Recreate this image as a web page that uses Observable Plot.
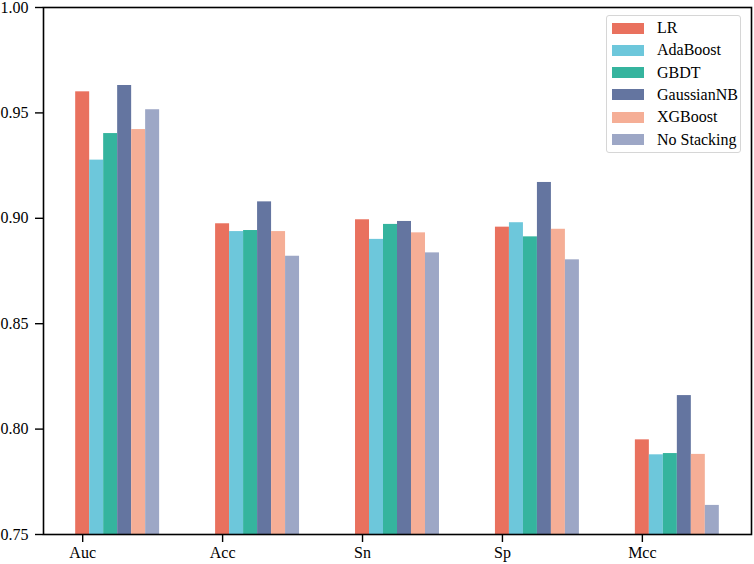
<!DOCTYPE html>
<html>
<head>
<meta charset="utf-8">
<script src="https://cdn.jsdelivr.net/npm/d3@7"></script>
<script src="https://cdn.jsdelivr.net/npm/@observablehq/plot@0.6"></script>
<style>
  html, body { margin: 0; padding: 0; background: #fff; }
  #wrap { position: relative; width: 754px; height: 564px; }
  #legend {
    position: absolute; left: 606px; top: 15px; width: 135px; height: 138px;
    border: 1px solid #d6d6d6; border-radius: 3px; background: rgba(255,255,255,0.85);
    font-family: "Liberation Serif", "DejaVu Serif", serif; font-size: 16px; color: #000;
    box-sizing: border-box;
  }
  .row { position: absolute; left: 5px; height: 22px; display: flex; align-items: center; }
  .sw { width: 32px; height: 11px; margin-right: 13px; }
</style>
</head>
<body>
<div id="wrap"><div id="legend"></div></div>
<script>
const categories = ["Auc", "Acc", "Sn", "Sp", "Mcc"];
const models = ["LR", "AdaBoost", "GBDT", "GaussianNB", "XGBoost", "No Stacking"];
const colors = ["#E9715E", "#6DC7DB", "#35B49E", "#6475A0", "#F5AE96", "#9DA7C6"];
const LR          = [0.960, 0.8974, 0.8993, 0.8958, 0.7949];
const AdaBoost    = [0.9276, 0.8937, 0.8900, 0.8979, 0.7878];
const GBDT        = [0.9402, 0.8942, 0.8971, 0.8912, 0.7884];
const GaussianNB  = [0.9630, 0.9078, 0.8985, 0.9170, 0.8159];
const XGBoost     = [0.9421, 0.8937, 0.8931, 0.8948, 0.7880];
const NoStacking  = [0.9515, 0.8820, 0.8836, 0.8803, 0.7638];
const yTicks = [0.75, 0.80, 0.85, 0.90, 0.95, 1.00];

const series = [LR, AdaBoost, GBDT, GaussianNB, XGBoost, NoStacking];
const barWidth = 0.1;
const table = [];
series.forEach((vals, m) => {
  vals.forEach((v, c) => {
    table.push({
      model: models[m],
      x1: c + m * barWidth - barWidth / 2,
      x2: c + m * barWidth + barWidth / 2,
      value: v
    });
  });
});

const chart = Plot.plot({
  width: 754,
  height: 564,
  marginLeft: 43,
  marginRight: 3,
  marginTop: 7,
  marginBottom: 30,
  style: { fontFamily: "Liberation Serif, DejaVu Serif, serif", fontSize: "16px", background: "#fff", color: "#000" },
  x: { domain: [-0.28, 4.78] },
  y: { domain: [0.75, 1.0] },
  color: { domain: models, range: colors },
  marks: [
    Plot.rect(table, { x1: "x1", x2: "x2", y1: 0.75, y2: "value", fill: "model" }),
    Plot.frame({ stroke: "#000", strokeWidth: 1.6 }),
    Plot.axisX({ ticks: [0, 1, 2, 3, 4], tickFormat: i => categories[i], tickSize: 8, tickPadding: 4, label: null, fontSize: 16, strokeWidth: 1.4 }),
    Plot.axisY({ ticks: yTicks, tickFormat: d3.format(".2f"), tickSize: 8, tickPadding: 7, label: null, fontSize: 16, strokeWidth: 1.4 })
  ]
});
const wrap = document.getElementById("wrap");
wrap.insertBefore(chart, wrap.firstChild);

const legend = document.getElementById("legend");
models.forEach((m, i) => {
  const row = document.createElement("div");
  row.className = "row";
  row.style.top = (1 + i * 22.3) + "px";
  const sw = document.createElement("div");
  sw.className = "sw";
  sw.style.background = colors[i];
  const tx = document.createElement("span");
  tx.textContent = m;
  row.appendChild(sw);
  row.appendChild(tx);
  legend.appendChild(row);
});
</script>
</body>
</html>
